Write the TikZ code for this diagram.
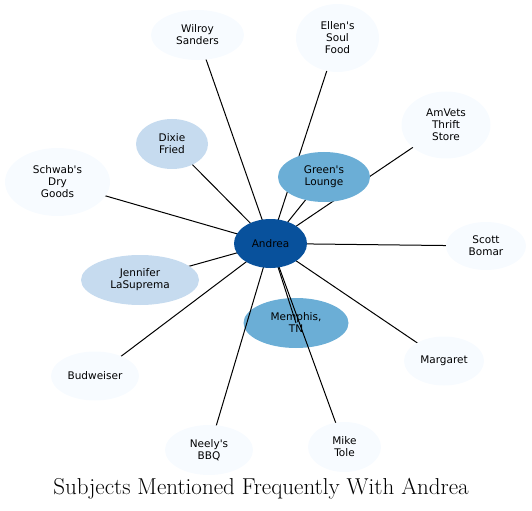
\documentclass[tikz,border=0pt]{standalone}
\usepackage{fontspec}
\newfontfamily\labelfont{DejaVu Sans}
\usetikzlibrary{shapes.geometric}
\definecolor{darkblue}{HTML}{08519C}
\definecolor{midblue}{HTML}{6BAED6}
\definecolor{lightblue}{HTML}{C6DBEF}
\definecolor{paleblue}{HTML}{F7FBFF}
\pgfdeclarelayer{bottom}
\pgfdeclarelayer{edges}
\pgfsetlayers{bottom,edges,main}
\tikzset{
  bubble/.style={ellipse,inner sep=0pt,align=center,
    font=\labelfont\fontsize{10.5bp}{12bp}\selectfont},
  link/.style={line width=1bp}
}
\begin{document}
\begin{tikzpicture}[x=1bp,y=-1bp]
	\useasboundingbox (0,0) rectangle (532,511);
	\begin{pgfonlayer}{bottom}
		\node[bubble,fill=midblue,minimum width=105bp,minimum height=50bp] (3) at (296,323) {Memphis,\\TN};
	\end{pgfonlayer}
	\node[bubble,fill=darkblue,minimum width=73bp,minimum height=49bp] (0) at (270.5,243.5) {Andrea};
	\node[bubble,fill=midblue,minimum width=92bp,minimum height=50bp] (1) at (324,177) {Green's\\Lounge};
	\node[bubble,fill=lightblue,minimum width=72bp,minimum height=50bp] (2) at (172,144) {Dixie\\Fried};
	\node[bubble,fill=lightblue,minimum width=118bp,minimum height=50bp] (4) at (140,280) {Jennifer\\LaSuprema};
	\node[bubble,fill=paleblue,minimum width=93bp,minimum height=50bp] (5) at (197.5,35) {Wilroy\\Sanders};
	\node[bubble,fill=paleblue,minimum width=83bp,minimum height=68bp] (6) at (337.5,38) {Ellen's\\Soul\\Food};
	\node[bubble,fill=paleblue,minimum width=89bp,minimum height=67bp] (7) at (446,125) {AmVets\\Thrift\\Store};
	\node[bubble,fill=paleblue,minimum width=105bp,minimum height=68bp] (8) at (57.5,182) {Schwab's\\Dry\\Goods};
	\node[bubble,fill=paleblue,minimum width=80bp,minimum height=48bp] (9) at (486,246) {Scott\\Bomar};
	\node[bubble,fill=paleblue,minimum width=88bp,minimum height=49bp] (10) at (95,376) {Budweiser};
	\node[bubble,fill=paleblue,minimum width=80bp,minimum height=49bp] (11) at (444,361) {Margaret};
	\node[bubble,fill=paleblue,minimum width=88bp,minimum height=50bp] (12) at (209,450) {Neely's\\BBQ};
	\node[bubble,fill=paleblue,minimum width=73bp,minimum height=50bp] (13) at (344.5,447) {Mike\\Tole};
	\begin{pgfonlayer}{edges}
		\foreach \n in {1,2,3,4,5,6,7,8,9,10,11,12,13}
			\draw[link] (0.center) -- (\n.center);
	\end{pgfonlayer}
	\node[font=\fontsize{23bp}{27bp}\selectfont] (title) at (261,489) {Subjects Mentioned Frequently With Andrea};
\end{tikzpicture}
\end{document}
